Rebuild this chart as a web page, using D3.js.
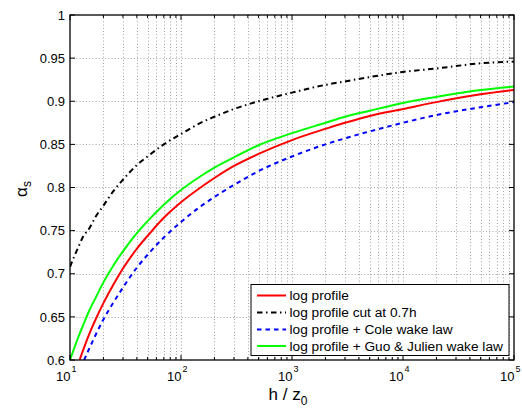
<!DOCTYPE html>
<html>
<head>
<meta charset="utf-8">
<script src="https://cdn.jsdelivr.net/npm/d3@7"></script>
<style>
  html, body { margin: 0; padding: 0; background: #fff; }
  svg { display: block; font-family: "Liberation Sans", Arial, Helvetica, sans-serif; }
</style>
</head>
<body>
<svg id="chart" width="522" height="408"></svg>
<script>
// ---- data ----
const xTickExponents = [1, 2, 3, 4, 5];
const yTicks = [0.6, 0.65, 0.7, 0.75, 0.8, 0.85, 0.9, 0.95, 1];
const yTickLabels = ["0.6", "0.65", "0.7", "0.75", "0.8", "0.85", "0.9", "0.95", "1"];

const seriesNames = ["log profile", "log profile cut at 0.7h", "log profile + Cole wake law", "log profile + Guo & Julien wake law"];

const logH = [12.2, 13, 15, 17, 20, 25, 30, 40, 50, 70, 100, 150, 200, 300, 500, 1000, 2000, 3000, 5000, 10000, 20000, 50000, 100000];
const logAlpha = [0.600, 0.610, 0.631, 0.647, 0.666, 0.689, 0.706, 0.729, 0.744, 0.765, 0.783, 0.800, 0.811, 0.825, 0.839, 0.855, 0.868, 0.875, 0.883, 0.891, 0.899, 0.908, 0.913];

const cutH = [10, 11, 12, 13, 15, 17, 20, 25, 30, 40, 50, 70, 100, 150, 200, 300, 500, 1000, 2000, 3000, 5000, 10000, 20000, 50000, 100000];
const cutAlpha = [0.708, 0.721, 0.732, 0.742, 0.753, 0.766, 0.779, 0.797, 0.809, 0.826, 0.836, 0.850, 0.862, 0.875, 0.882, 0.891, 0.900, 0.910, 0.919, 0.923, 0.928, 0.934, 0.938, 0.944, 0.946];

const coleH = [13.4, 15, 17, 20, 25, 30, 40, 50, 70, 100, 150, 200, 300, 500, 1000, 2000, 3000, 5000, 10000, 20000, 50000, 100000];
const coleAlpha = [0.600, 0.614, 0.629, 0.647, 0.668, 0.684, 0.707, 0.722, 0.742, 0.760, 0.778, 0.789, 0.803, 0.819, 0.836, 0.850, 0.857, 0.865, 0.875, 0.884, 0.893, 0.899];

const guoH = [10, 12, 13, 15, 17, 20, 25, 30, 40, 50, 70, 100, 150, 200, 300, 500, 1000, 2000, 3000, 5000, 10000, 20000, 50000, 100000];
const guoAlpha = [0.600, 0.628, 0.639, 0.658, 0.672, 0.690, 0.711, 0.726, 0.747, 0.761, 0.780, 0.797, 0.813, 0.823, 0.835, 0.849, 0.863, 0.875, 0.882, 0.889, 0.898, 0.905, 0.913, 0.917];

// ---- layout ----
const W = 522, H = 408;
const L = 70, R = 514, T = 15, B = 360;
const svg = d3.select("#chart");
svg.append("rect").attr("width", W).attr("height", H).attr("fill", "#fff");

const x = d3.scaleLog().domain([10, 100000]).range([L, R]);
const y = d3.scaleLinear().domain([0.6, 1]).range([B, T]);

// grid
const minorX = [];
for (let e = 1; e < 5; e++) for (let m = 1; m <= 9; m++) minorX.push(m * Math.pow(10, e));
minorX.push(100000);
const grid = svg.append("g").attr("stroke", "#8a8a8a").attr("stroke-width", 0.8).attr("stroke-dasharray", "1,2.2");
grid.selectAll("line.v").data(minorX.filter(v => v > 10 && v < 100000)).join("line")
  .attr("x1", d => Math.round(x(d)) + 0.5).attr("x2", d => Math.round(x(d)) + 0.5)
  .attr("y1", T).attr("y2", B);
grid.selectAll("line.h").data(yTicks.filter(v => v > 0.6 && v < 1)).join("line")
  .attr("x1", L).attr("x2", R)
  .attr("y1", d => Math.round(y(d)) + 0.5).attr("y2", d => Math.round(y(d)) + 0.5);

// curves
svg.append("clipPath").attr("id", "clip").append("rect")
  .attr("x", L).attr("y", T).attr("width", R - L).attr("height", B - T);
const line = d3.line().x(d => x(d[0])).y(d => y(d[1])).curve(d3.curveMonotoneX);
const series = [
  { h: logH, a: logAlpha, color: "#ff0000", dash: null },
  { h: cutH, a: cutAlpha, color: "#000000", dash: "5.5,3.5,1.5,3.5" },
  { h: coleH, a: coleAlpha, color: "#0000ff", dash: "4.5,4" },
  { h: guoH, a: guoAlpha, color: "#00ff00", dash: null }
];
const cg = svg.append("g").attr("clip-path", "url(#clip)");
// draw order: cut, cole, log, guo
[1, 2, 0, 3].forEach(i => {
  const s = series[i];
  cg.append("path")
    .attr("d", line(s.h.map((h, k) => [h, s.a[k]])))
    .attr("fill", "none").attr("stroke", s.color).attr("stroke-width", 2)
    .attr("stroke-dasharray", s.dash);
});

// frame
svg.append("rect").attr("x", L).attr("y", T).attr("width", R - L).attr("height", B - T)
  .attr("fill", "none").attr("stroke", "#000").attr("stroke-width", 1.3);

// ticks
const tk = svg.append("g").attr("stroke", "#000").attr("stroke-width", 1);
minorX.forEach(v => {
  const major = xTickExponents.some(e => Math.abs(Math.pow(10, e) - v) < 1e-6);
  const len = major ? 5 : 3;
  const px = x(v);
  tk.append("line").attr("x1", px).attr("x2", px).attr("y1", B).attr("y2", B - len);
  tk.append("line").attr("x1", px).attr("x2", px).attr("y1", T).attr("y2", T + len);
});
yTicks.forEach(v => {
  const py = y(v);
  tk.append("line").attr("x1", L).attr("x2", L + 5).attr("y1", py).attr("y2", py);
  tk.append("line").attr("x1", R).attr("x2", R - 5).attr("y1", py).attr("y2", py);
});

// y tick labels
svg.append("g").selectAll("text").data(yTicks).join("text")
  .attr("x", L - 5).attr("y", d => y(d)).attr("dy", "0.36em")
  .attr("text-anchor", "end").attr("font-size", 13).attr("fill", "#000")
  .text((d, i) => yTickLabels[i]);

// x tick labels (10^n)
const xl = svg.append("g").attr("fill", "#000");
xTickExponents.forEach(e => {
  const px = x(Math.pow(10, e));
  xl.append("text").attr("x", px + 0.5).attr("y", 380.5).attr("text-anchor", "end")
    .attr("font-size", 13).text("10");
  xl.append("text").attr("x", px + 1.5).attr("y", 372).attr("text-anchor", "start")
    .attr("font-size", 9).text(String(e));
});

// axis labels
const xlab = svg.append("text").attr("x", 288).attr("y", 400).attr("text-anchor", "middle")
  .attr("font-size", 17).attr("fill", "#000");
xlab.append("tspan").text("h / z");
xlab.append("tspan").attr("font-size", 12).attr("dy", 5).text("0");

const ylab = svg.append("text").attr("transform", "translate(26.5,189) rotate(-90)")
  .attr("text-anchor", "middle").attr("font-size", 17).attr("fill", "#000");
ylab.append("tspan").text("α");
ylab.append("tspan").attr("font-size", 12).attr("dy", 4).text("s");

// legend
const lg = svg.append("g");
lg.append("rect").attr("x", 251).attr("y", 284.5).attr("width", 258).attr("height", 71)
  .attr("fill", "#fff").attr("stroke", "#000").attr("stroke-width", 1);
const rowY = [295.5, 312.5, 329.5, 346];
series.forEach((s, i) => {
  lg.append("line").attr("x1", 257).attr("x2", 286).attr("y1", rowY[i]).attr("y2", rowY[i])
    .attr("stroke", s.color).attr("stroke-width", 2).attr("stroke-dasharray", s.dash);
  lg.append("text").attr("x", 289.5).attr("y", rowY[i]).attr("dy", "0.36em")
    .attr("font-size", 13.7).attr("fill", "#000").text(seriesNames[i]);
});
</script>
</body>
</html>
